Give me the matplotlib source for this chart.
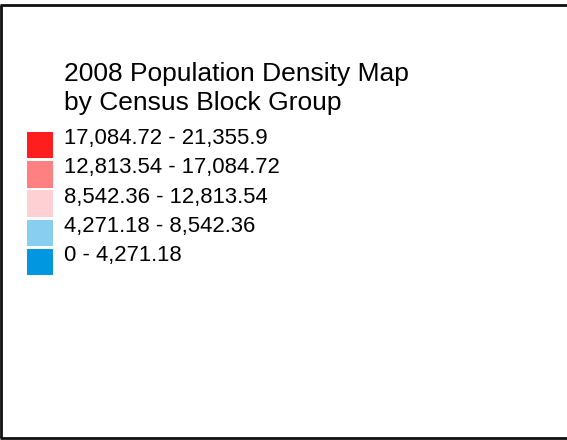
import matplotlib
matplotlib.use("Agg")
import matplotlib.pyplot as plt
from matplotlib.patches import Rectangle

title_lines = ["2008 Population Density Map", "by Census Block Group"]
class_labels = [
    "17,084.72 - 21,355.9",
    "12,813.54 - 17,084.72",
    "8,542.36 - 12,813.54",
    "4,271.18 - 8,542.36",
    "0 - 4,271.18",
]
class_colors = ["#FF1E1E", "#FF8080", "#FFD0D3", "#88CEF0", "#0096E0"]

W, H = 567, 440
fig = plt.figure(figsize=(W / 100, H / 100), dpi=100)
ax = fig.add_axes([0, 0, 1, 1])
ax.set_xlim(0, W)
ax.set_ylim(H, 0)
ax.axis("off")

font = "Liberation Sans"

# frame
ax.plot([1.2, 1.2], [5.5, 438], color="#111111", lw=2.0, solid_capstyle="butt")
ax.plot([0, W], [5.5, 5.5], color="#111111", lw=2.0, solid_capstyle="butt")
ax.plot([0, W], [438, 438], color="#111111", lw=2.0, solid_capstyle="butt")

# title
for j, line in enumerate(title_lines):
    ax.text(64, 80.5 + j * 29.5, line, fontsize=19.0, family=font,
            va="baseline", ha="left", color="black")

# legend rows
pitch = 29.3
for i, (lab, col) in enumerate(zip(class_labels, class_colors)):
    top = 131.7 + i * pitch
    ax.add_patch(Rectangle((27, top), 26, 26.6, facecolor=col, edgecolor="none"))
    ax.text(64, 144 + i * pitch, lab, fontsize=15.9, family=font,
            va="baseline", ha="left", color="black")

fig.savefig("out.png", dpi=100)
